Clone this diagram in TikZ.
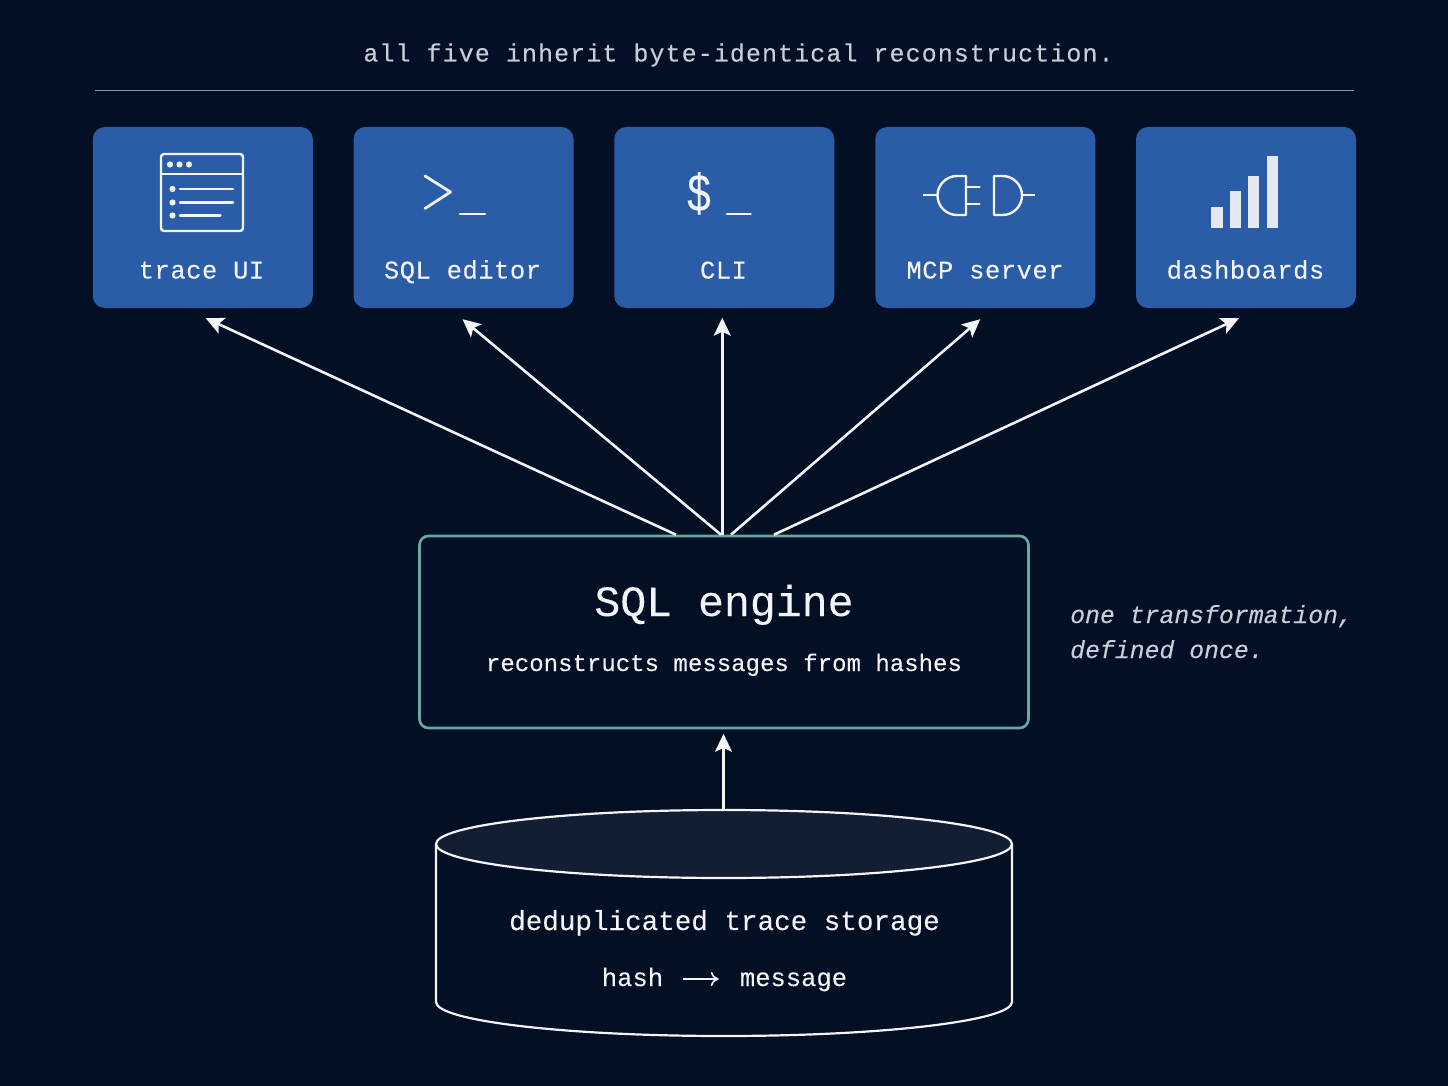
\documentclass[tikz,border=0pt]{standalone}
\usepackage{fontspec}
\usetikzlibrary{arrows.meta,calc}
\setmainfont{Liberation Mono}[FakeBold=0.12]
\newcommand{\fs}[2]{\fontsize{#1}{#1}\selectfont\addfontfeature{LetterSpace=#2}}
\definecolor{bgc}{HTML}{020F24}
\definecolor{cardc}{HTML}{2B5CA8}
\definecolor{tealc}{HTML}{69A8A2}
\definecolor{capc}{HTML}{111E33}
\definecolor{ink}{HTML}{F2F4F8}
\definecolor{barc}{HTML}{E4E8F0}
\definecolor{dimc}{HTML}{C8CED8}
\tikzset{
  x=1pt,y=-1pt,
  card/.style={fill=cardc,rounded corners=12pt,minimum width=220pt,minimum height=181pt,inner sep=0pt},
  cardlabel/.style={text=ink,font=\fs{25.5}{2},inner sep=0pt,anchor=base},
  flow/.style={draw=ink,line width=2.6pt,-{Stealth[length=18pt,width=17pt,inset=4pt]}},
  icon/.style={draw=ink,line width=2.4pt,line cap=round,line join=round},
  iconb/.style={icon,line width=2.8pt},
  dotf/.style={fill=ink},
  tank/.style={draw=ink,line width=2.2pt},
}
\begin{document}
\begin{tikzpicture}
\fill[bgc] (0,0) rectangle (1448,1086);
\useasboundingbox (0,0) rectangle (1448,1086);

\node[text=dimc,font=\fs{25}{4.3},inner sep=0pt,anchor=base] (title) at (738.5,61.5) {all five inherit byte-identical reconstruction.};
\draw[draw=dimc!70!bgc,line width=1pt] (95,91) -- (1354,91);

% cards
\node[card] (c1) at (202.75,217.5) {};
\node[card] (c2) at (463.5,217.5) {};
\node[card] (c3) at (724.25,217.5) {};
\node[card] (c4) at (985.25,217.5) {};
\node[card] (c5) at (1246,217.5) {};
\node[cardlabel] (l1) at (201.5,278.5) {trace UI};
\node[cardlabel] (l2) at (462.5,278.5) {SQL editor};
\node[cardlabel] (l3) at (723.5,278.5) {CLI};
\node[cardlabel] (l4) at (985,278.5) {MCP server};
\node[cardlabel] (l5) at (1245.5,278.5) {dashboards};

% window icon
\draw[icon,rounded corners=3pt] (161,154) rectangle (243,231);
\draw[icon] (161,174) -- (243,174);
\foreach \x in {170,179.5,189} \fill[dotf] (\x,164.5) circle (3.1pt);
\foreach \y in {189,202.5,215.5} \fill[dotf] (172.5,\y) circle (3.1pt);
\draw[icon] (180,189) -- (233,189);
\draw[icon] (180,202.5) -- (233,202.5);
\draw[icon] (180,215.5) -- (220.5,215.5);

% prompt icon
\draw[iconb] (425,176) -- (450.5,192) -- (425,208.5);
\draw[iconb] (460,214) -- (485,214);

% dollar icon
\node[text=ink,font=\fs{54}{0},inner sep=0pt,anchor=base,xscale=0.78] (dollar) at (699,211) {\$};
\draw[iconb] (727,214) -- (750.5,214);

% plug icon
\draw[icon,line cap=butt] (923,195) -- (937,195);
\draw[icon] (966,176) -- (957,176) arc[start angle=-90,end angle=-270,radius=19.5] -- (966,215) -- cycle;
\draw[icon] (966,187) -- (979.5,187);
\draw[icon] (966,204) -- (979.5,204);
\draw[icon] (994,176) -- (1002.5,176) arc[start angle=-90,end angle=90,radius=19.5] -- (994,215) -- cycle;
\draw[icon,line cap=butt] (1022,195) -- (1035,195);

% bars icon
\fill[barc] (1211,207.5) rectangle (1222.5,228);
\fill[barc] (1229.5,191) rectangle (1241,228);
\fill[barc] (1248,176.5) rectangle (1259,228);
\fill[barc] (1267,156) rectangle (1278,228);

% engine
\node[draw=tealc,line width=2.6pt,rounded corners=9pt,minimum width=609pt,minimum height=192pt,inner sep=0pt] (engine) at (724,632) {};
\node[text=ink,font=\fs{43.2}{0},inner sep=0pt,anchor=base] (etitle) at (724,616) {SQL engine};
\node[text=ink,font=\fs{24}{0.1},inner sep=0pt,anchor=base] (esub) at (724,671) {reconstructs messages from hashes};
\node[text=dimc,font=\itshape\fs{24.8}{0},inner sep=0pt,anchor=base west] (n1) at (1070,623) {one transformation,};
\node[text=dimc,font=\itshape\fs{24.8}{0},inner sep=0pt,anchor=base west] (n2) at (1070,658) {defined once.};

% connectors
\draw[flow] ($(engine.north)+(-48,0)$) -- ($(c1.south)+(3,10)$);
\draw[flow] ($(engine.north)+(-3,0)$) -- ($(c2.south)+(-1,11)$);
\draw[flow] ($(engine.north)+(-1.75,0)$) -- ($(c3.south)+(-2,9.5)$);
\draw[flow] ($(engine.north)+(7,0)$) -- ($(c4.south)+(-5,11)$);
\draw[flow] ($(engine.north)+(50,0)$) -- ($(c5.south)+(-7,10)$);

% cylinder
\draw[tank,fill=bgc] (436,844) -- (436,1002) arc[start angle=180,end angle=0,x radius=288,y radius=34] -- (1012,844);
\draw[tank,fill=capc] (724,844) ellipse[x radius=288,y radius=34];
\coordinate (captop) at (723.5,810);
\draw[flow] (captop) -- ($(engine.south)+(-0.5,4.5)$);
\node[text=ink,font=\fs{27.6}{0},inner sep=0pt,anchor=base] (stitle) at (724.5,930) {deduplicated trace storage};
\node[text=ink,font=\fs{25.5}{0},inner sep=0pt,anchor=base] (hash) at (632.5,986) {hash};
\node[text=ink,font=\fs{25.5}{0},inner sep=0pt,anchor=base] (msg) at (793.5,986) {message};
\draw[draw=ink,line width=1.6pt,-{To[length=8pt,width=14pt]}] ($(hash.base east)+(20,-7)$) -- ($(msg.base west)+(-21,-7)$);
\end{tikzpicture}
\end{document}
